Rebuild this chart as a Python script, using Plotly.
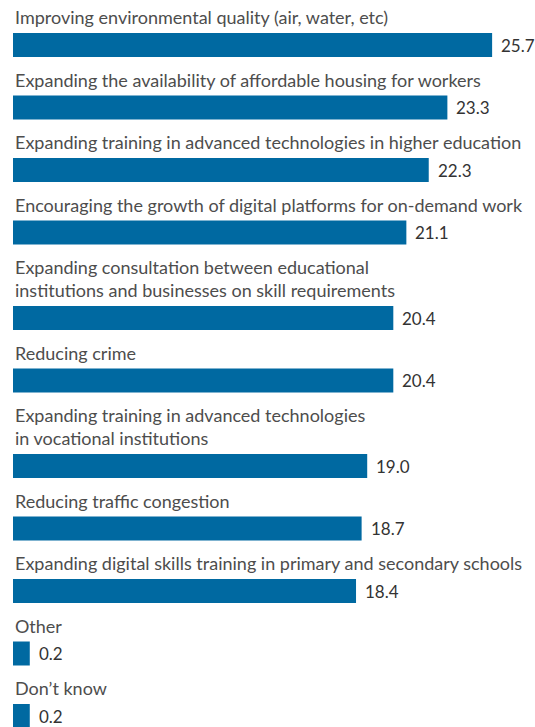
import plotly.graph_objects as go

categories = [
    "Improving environmental quality (air, water, etc)",
    "Expanding the availability of affordable housing for workers",
    "Expanding training in advanced technologies in higher education",
    "Encouraging the growth of digital platforms for on-demand work",
    "Expanding consultation between educational<br>institutions and businesses on skill requirements",
    "Reducing crime",
    "Expanding training in advanced technologies<br>in vocational institutions",
    "Reducing traffic congestion",
    "Expanding digital skills training in primary and secondary schools",
    "Other",
    "Don’t know",
]
values = [25.7, 23.3, 22.3, 21.1, 20.4, 20.4, 19.0, 18.7, 18.4, 0.2, 0.2]

BAR_COLOR = "#0069a1"
FONT = "Lato"
LABEL_SIZE = 18
VALUE_SIZE = 17
LINE_H = 23
MIN_BAR = 0.9  # smallest bars are drawn with a minimum visible width

# vertical layout in pixels: label above each bar
label_y, bar_y = [], []
cursor = 17
for cat in categories:
    n = cat.count("<br>") + 1
    label_y.append(cursor + (n - 1) * LINE_H / 2)
    center = cursor + (n - 1) * LINE_H + 28
    bar_y.append(center)
    cursor = center + 34.5

bar_len = [max(v, MIN_BAR) for v in values]

fig = go.Figure()

fig.add_trace(
    go.Bar(
        x=bar_len,
        y=bar_y,
        orientation="h",
        width=24,
        marker=dict(color=BAR_COLOR, line=dict(width=0)),
        hoverinfo="skip",
    )
)

for cat, y in zip(categories, label_y):
    fig.add_annotation(
        x=0,
        xref="paper",
        y=y,
        yref="y",
        text=cat,
        showarrow=False,
        xanchor="left",
        yanchor="middle",
        align="left",
        font=dict(family=FONT, size=LABEL_SIZE, color="#4d4d4d"),
    )

for v, length, y in zip(values, bar_len, bar_y):
    fig.add_annotation(
        x=length,
        y=y,
        text=f"{v:.1f}",
        showarrow=False,
        xanchor="left",
        yanchor="middle",
        xshift=7,
        font=dict(family=FONT, size=VALUE_SIZE, color="#333333"),
    )

fig.update_layout(
    width=535,
    height=727,
    margin=dict(l=13, r=0, t=0, b=0),
    paper_bgcolor="white",
    plot_bgcolor="white",
    showlegend=False,
    xaxis=dict(range=[0, 28], visible=False, fixedrange=True),
    yaxis=dict(range=[727, 0], visible=False, fixedrange=True),
)

fig.write_html(
    "out.html",
    config={"displayModeBar": False},
    post_script="document.body.style.margin = '0'; document.body.style.overflow = 'hidden';",
)
